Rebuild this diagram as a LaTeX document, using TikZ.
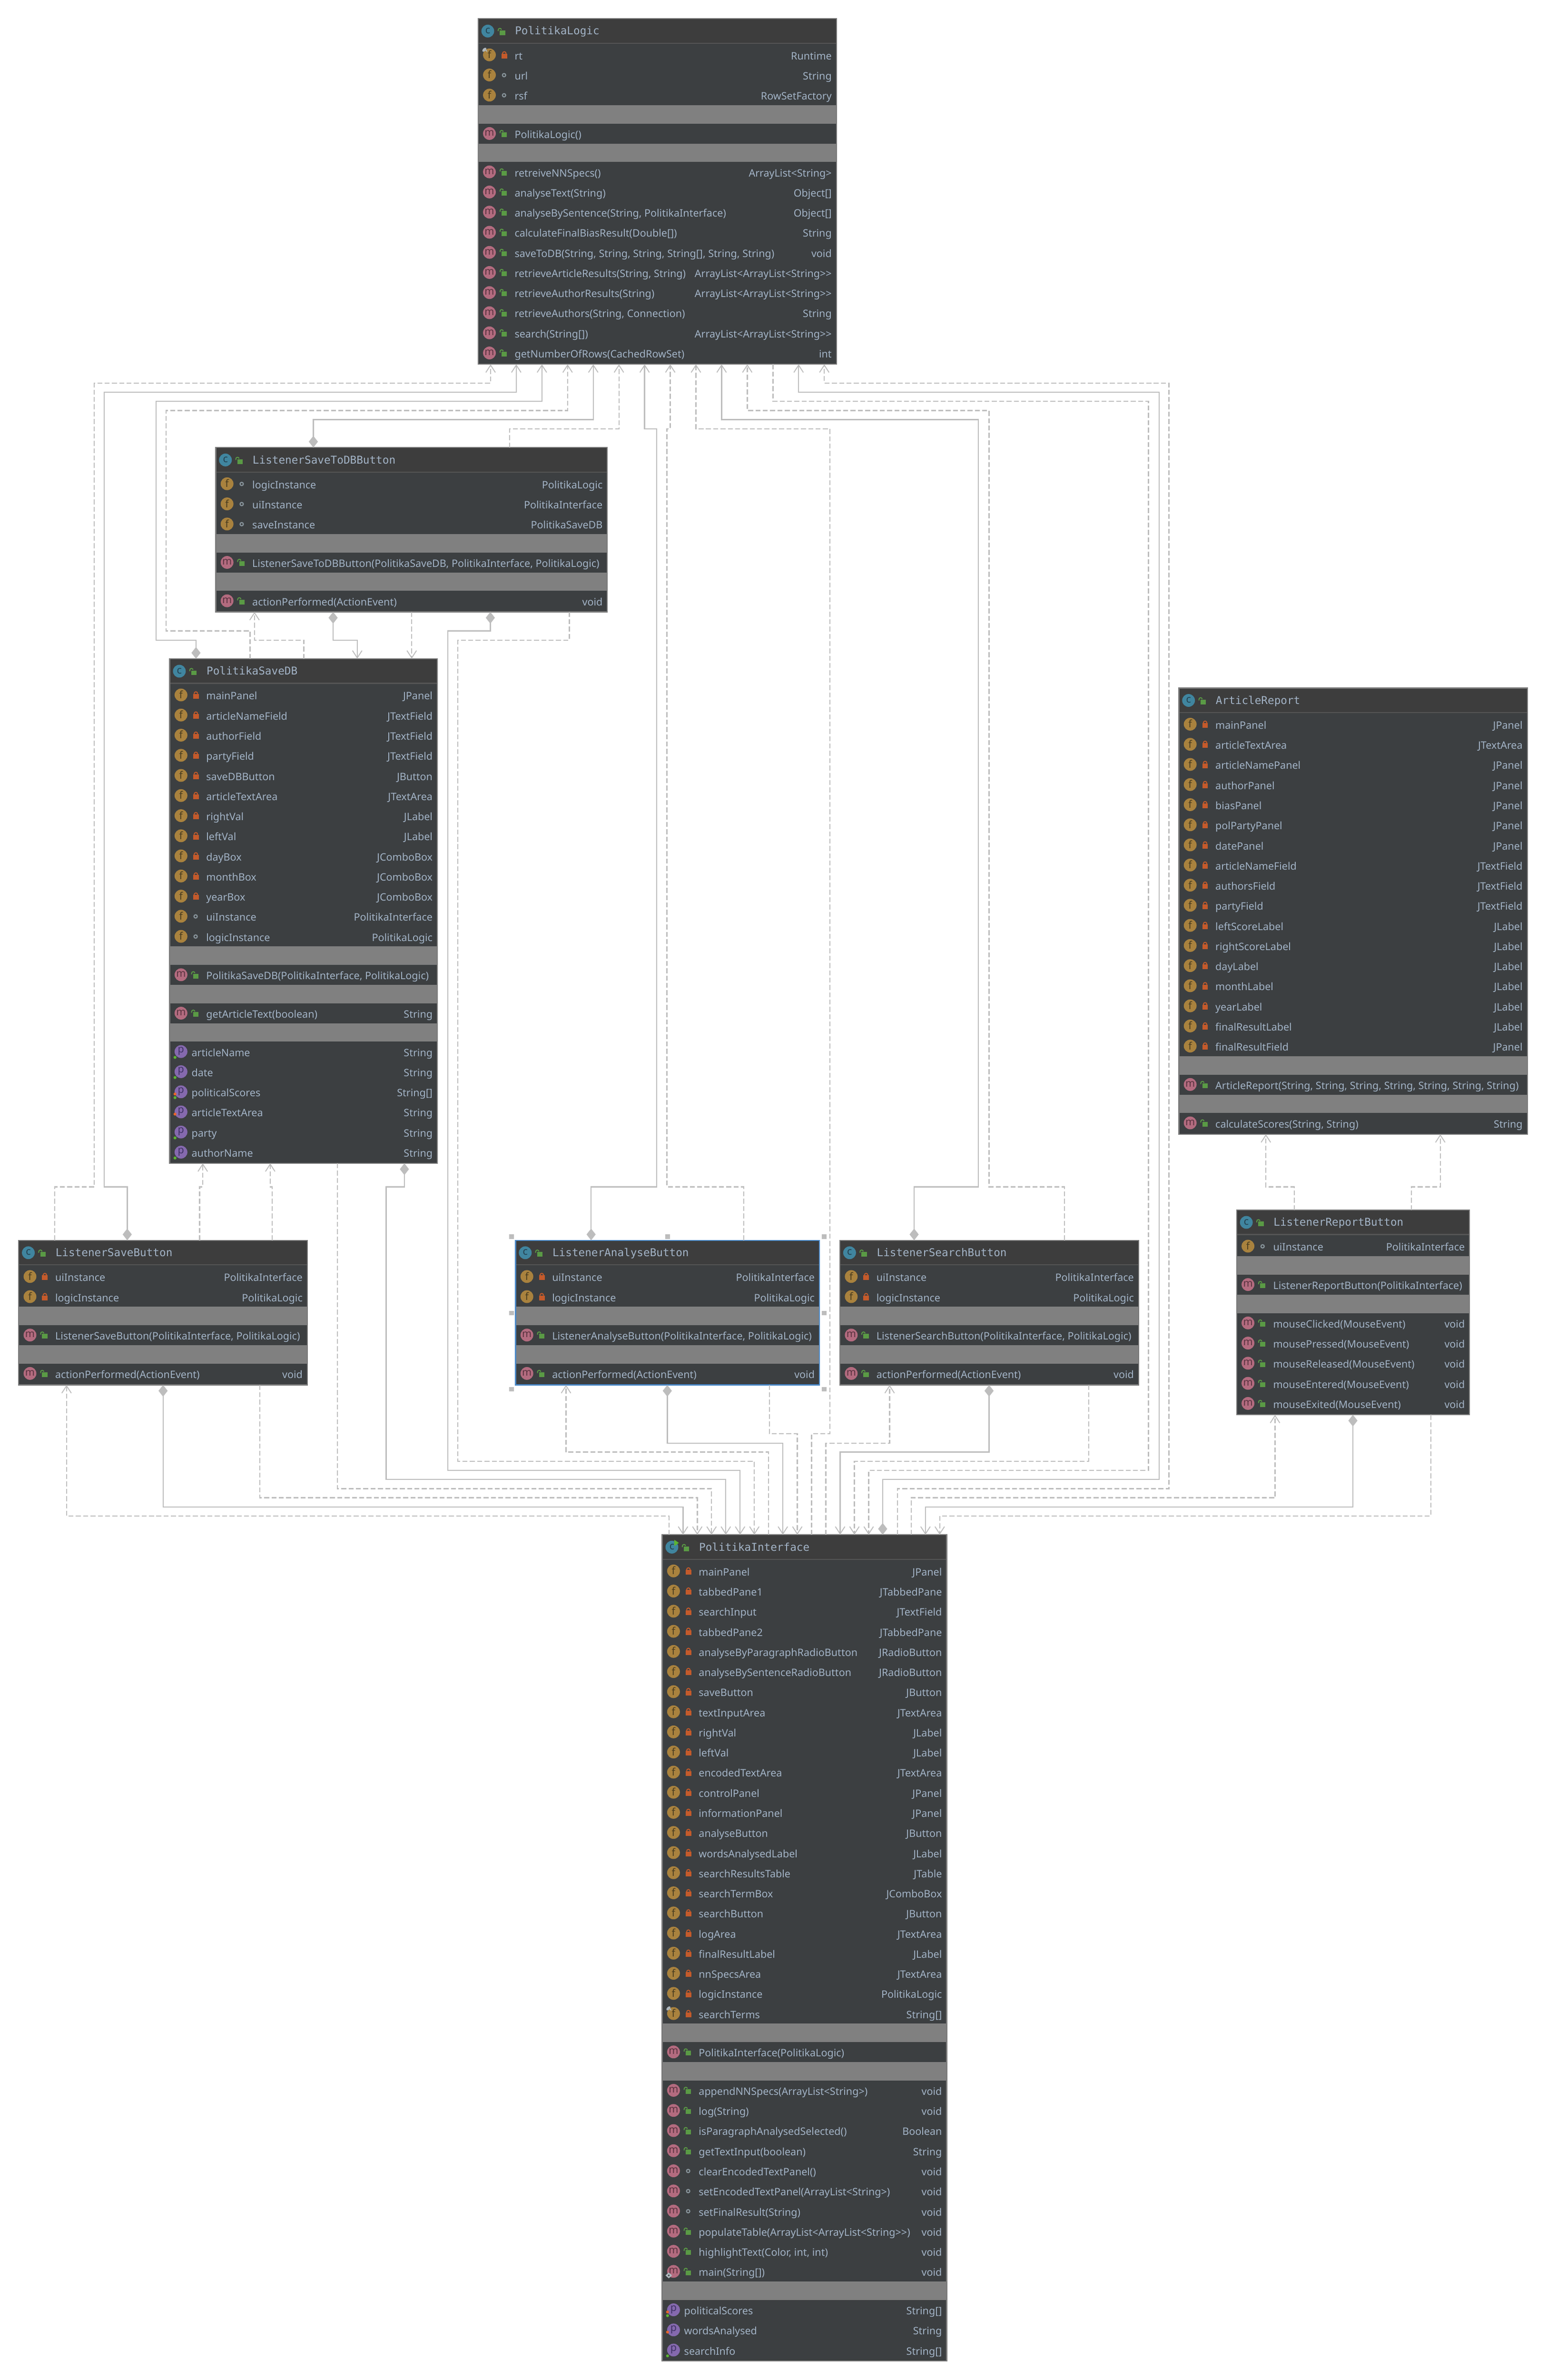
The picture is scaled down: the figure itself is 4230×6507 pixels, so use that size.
\documentclass[tikz,border=0pt]{standalone}
\usepackage{fontspec}
\usetikzlibrary{arrows.meta}
\newfontfamily\rowfont{Noto Sans}
\newfontfamily\titlefont{DejaVu Sans Mono}
\definecolor{bodybg}{HTML}{3C3F41}
\definecolor{headbg}{HTML}{3D3D3D}
\definecolor{boxedge}{HTML}{7B7B7B}
\definecolor{sepline}{HTML}{555555}
\definecolor{gapgray}{HTML}{808080}
\definecolor{txt}{HTML}{A3B4C7}
\definecolor{icC}{HTML}{40859F}
\definecolor{icF}{HTML}{A9823E}
\definecolor{icM}{HTML}{B36B7F}
\definecolor{icP}{HTML}{8569AE}
\definecolor{ltC}{HTML}{24404E}
\definecolor{ltF}{HTML}{4A3D20}
\definecolor{ltM}{HTML}{5A3340}
\definecolor{ltP}{HTML}{3F3263}
\definecolor{lockred}{HTML}{C45A2B}
\definecolor{lockgreen}{HTML}{5A9A45}
\definecolor{ringgray}{HTML}{87939A}
\definecolor{wire}{HTML}{BDBDBD}
\definecolor{dotG}{HTML}{5CB531}
\definecolor{dotO}{HTML}{E8652A}
\definecolor{selblue}{HTML}{4A88C7}
\definecolor{pingray}{HTML}{AFB8BE}
\tikzset{
  x=1pt,y=-1pt,
  cbox/.style={draw=boxedge,line width=3pt,fill=bodybg,anchor=north west,inner sep=0pt,outer sep=0pt},
  rowtxt/.style={text=txt,inner sep=0pt,outer sep=0pt,font=\rowfont\fontsize{28}{28}\selectfont},
  titletxt/.style={text=txt,inner sep=0pt,outer sep=0pt,anchor=base west,font=\titlefont\fontsize{29.5}{30}\selectfont},
  iconletter/.style={inner sep=0pt,outer sep=0pt,font=\rowfont\fontsize{28}{28}\selectfont},
  dep/.style={draw=wire,fill=none,line width=3pt,dash pattern=on 13.5pt off 6.5pt,line join=miter},
  assoc/.style={draw=wire,fill=none,line width=3pt,line join=miter},
  tipopen/.style={-{Straight Barb[length=20pt,width=26pt,line width=2.5pt]}},
  tipboth/.style={{Diamond[length=32pt,width=25pt,fill=wire]}-{Straight Barb[length=20pt,width=26pt,line width=2.5pt]}},
}
\newcount\uid
\newcommand\nid{\global\advance\uid by 1 }
% class frame: id, title, left, top, right, bottom
\newcommand\umlclass[6]{%
  \nid
  \node[cbox,minimum width=#5pt-#3pt,minimum height=#6pt-#4pt] (#1) at (#3,#4) {};
  \def\cl{#3}\def\cr{#5}
  \fill[headbg] ({#3+1.5},{#4+1.5}) rectangle ({#5-1.5},{#4+67});
  \draw[sepline,line width=3pt] ({#3+1.5},{#4+67}) -- ({#5-1.5},{#4+67});
  \fill[icC] ({#3+26.5},{#4+34}) circle[radius=17.5pt];
  \nid\node[iconletter,text=ltC] (n\the\uid) at ({#3+26.5},{#4+33}) {c};
  \openlock{#3+59}{#4+38}
  \nid\node[titletxt] (n\the\uid) at ({#3+101},{#4+44}) {#2};
  \pgfmathsetmacro\cy{#4+102}
}
\newcommand\openlock[2]{%
  \fill[lockgreen] ({#1},{#2-6}) rectangle ({#1+15},{#2+7});
  \draw[lockgreen,line width=2.6pt] ({#1-4},{#2-4}) -- ({#1-4},{#2-7}) arc[start angle=180,end angle=10,radius=4.5pt];
}
\newcommand\closedlock[2]{%
  \fill[lockred] ({#1},{#2-6}) rectangle ({#1+15.5},{#2+7});
  \draw[lockred,line width=2.6pt] ({#1+3},{#2-6}) -- ({#1+3},{#2-7}) arc[start angle=180,end angle=0,radius=4.7pt] -- ({#1+12.4},{#2-6});
}
\newcommand\visicon[1]{%
  \ifx#1o\openlock{\cl+64}{\cy}\fi
  \ifx#1l\closedlock{\cl+64}{\cy}\fi
  \ifx#1r\draw[ringgray,line width=3pt] ({\cl+71},{\cy-2.5}) circle[radius=4.5pt];\fi
}
% #1 letter kind (F/M), #2 letter, #3 vis, #4 name, #5 type
\newcommand\mrow[5]{%
  \fill[ic#1] ({\cl+31},{\cy-3}) circle[radius=17.5pt];
  \nid\node[iconletter,text=lt#1] (n\the\uid) at ({\cl+31},{\cy-4}) {#2};
  \visicon{#3}
  \nid\node[rowtxt,anchor=base west] (n\the\uid) at ({\cl+100},{\cy+10}) {#4};
  \nid\node[rowtxt,anchor=base east] (n\the\uid) at ({\cr-13},{\cy+10}) {#5};
  \pgfmathsetmacro\cy{\cy+55}
}
\newcommand\frow[3]{\mrow{F}{f}{#1}{#2}{#3}}
\newcommand\mth[3]{\mrow{M}{m}{#1}{#2}{#3}}
% property row: #1 orange dot(0/1), #2 green dot(0/1), name, type
\newcommand\prow[4]{%
  \fill[icP] ({\cl+31},{\cy-3}) circle[radius=17.5pt];
  \nid\node[iconletter,text=ltP] (n\the\uid) at ({\cl+31},{\cy-4}) {p};
  \ifnum#1=1 \fill[dotO] ({\cl+14.6},{\cy+3}) circle[radius=4pt];\fi
  \ifnum#2=1 \fill[dotG] ({\cl+14.6},{\cy+13}) circle[radius=4pt];\fi
  \nid\node[rowtxt,anchor=base west] (n\the\uid) at ({\cl+60},{\cy+10}) {#3};
  \nid\node[rowtxt,anchor=base east] (n\the\uid) at ({\cr-13},{\cy+10}) {#4};
  \pgfmathsetmacro\cy{\cy+55}
}
\newcommand\gapbar{%
  \fill[gapgray] ({\cl+1.5},{\cy-30.3}) rectangle ({\cr-1.5},{\cy+20});
  \pgfmathsetmacro\cy{\cy+50}
}
% pin on the icon of the row just drawn
\newcommand\pinmark{%
  \fill[pingray,rotate around={45:({\cl+17},{\cy-55-17})}] ({\cl+17},{\cy-55-17}) ellipse[x radius=7pt,y radius=4pt];
  \fill[pingray] ({\cl+20},{\cy-55-15}) -- ({\cl+24},{\cy-55-17}) -- ({\cl+25},{\cy-55-10}) -- cycle;
}
\newcommand\runmark{%
  \fill[pingray] ({\cl+9},{\cy-55+8}) -- ({\cl+18},{\cy-55}) -- ({\cl+27},{\cy-55+8}) -- ({\cl+18},{\cy-55+16}) -- cycle;
  \fill[bodybg] ({\cl+15.5},{\cy-55+8}) -- ({\cl+18},{\cy-55+5.5}) -- ({\cl+20.5},{\cy-55+8}) -- ({\cl+18},{\cy-55+10.5}) -- cycle;
}
\begin{document}
\begin{tikzpicture}
\useasboundingbox (0,0) rectangle (4230,6507);
\fill[white] (0,0) rectangle (4230,6507);

% ---------- PolitikaLogic
\umlclass{PL}{PolitikaLogic}{1307.5}{51}{2287.5}{996}
\frow{l}{rt}{Runtime}\pinmark
\frow{r}{url}{String}
\frow{r}{rsf}{RowSetFactory}
\gapbar
\mth{o}{PolitikaLogic()}{}
\gapbar
\mth{o}{retreiveNNSpecs()}{ArrayList<String>}
\mth{o}{analyseText(String)}{Object[]}
\mth{o}{analyseBySentence(String, PolitikaInterface)}{Object[]}
\mth{o}{calculateFinalBiasResult(Double[])}{String}
\mth{o}{saveToDB(String, String, String, String[], String, String)}{void}
\mth{o}{retrieveArticleResults(String, String)}{ArrayList<ArrayList<String>>}
\mth{o}{retrieveAuthorResults(String)}{ArrayList<ArrayList<String>>}
\mth{o}{retrieveAuthors(String, Connection)}{String}
\mth{o}{search(String[])}{ArrayList<ArrayList<String>>}
\mth{o}{getNumberOfRows(CachedRowSet)}{int}

% ---------- ListenerSaveToDBButton
\umlclass{SD}{ListenerSaveToDBButton}{590}{1223.6}{1661}{1673}
\frow{r}{logicInstance}{PolitikaLogic}
\frow{r}{uiInstance}{PolitikaInterface}
\frow{r}{saveInstance}{PolitikaSaveDB}
\gapbar
\mth{o}{ListenerSaveToDBButton(PolitikaSaveDB, PolitikaInterface, PolitikaLogic)}{}
\gapbar
\mth{o}{actionPerformed(ActionEvent)}{void}

% ---------- PolitikaSaveDB
\umlclass{SDB}{PolitikaSaveDB}{464}{1801}{1196}{3180.5}
\frow{l}{mainPanel}{JPanel}
\frow{l}{articleNameField}{JTextField}
\frow{l}{authorField}{JTextField}
\frow{l}{partyField}{JTextField}
\frow{l}{saveDBButton}{JButton}
\frow{l}{articleTextArea}{JTextArea}
\frow{l}{rightVal}{JLabel}
\frow{l}{leftVal}{JLabel}
\frow{l}{dayBox}{JComboBox}
\frow{l}{monthBox}{JComboBox}
\frow{l}{yearBox}{JComboBox}
\frow{r}{uiInstance}{PolitikaInterface}
\frow{r}{logicInstance}{PolitikaLogic}
\gapbar
\mth{o}{PolitikaSaveDB(PolitikaInterface, PolitikaLogic)}{}
\gapbar
\mth{o}{getArticleText(boolean)}{String}
\gapbar
\prow{0}{1}{articleName}{String}
\prow{0}{1}{date}{String}
\prow{1}{1}{politicalScores}{String[]}
\prow{1}{0}{articleTextArea}{String}
\prow{0}{1}{party}{String}
\prow{0}{1}{authorName}{String}

% ---------- ArticleReport
\umlclass{AR}{ArticleReport}{3224}{1881}{4177}{3101}
\frow{l}{mainPanel}{JPanel}
\frow{l}{articleTextArea}{JTextArea}
\frow{l}{articleNamePanel}{JPanel}
\frow{l}{authorPanel}{JPanel}
\frow{l}{biasPanel}{JPanel}
\frow{l}{polPartyPanel}{JPanel}
\frow{l}{datePanel}{JPanel}
\frow{l}{articleNameField}{JTextField}
\frow{l}{authorsField}{JTextField}
\frow{l}{partyField}{JTextField}
\frow{l}{leftScoreLabel}{JLabel}
\frow{l}{rightScoreLabel}{JLabel}
\frow{l}{dayLabel}{JLabel}
\frow{l}{monthLabel}{JLabel}
\frow{l}{yearLabel}{JLabel}
\frow{l}{finalResultLabel}{JLabel}
\frow{l}{finalResultField}{JPanel}
\gapbar
\mth{o}{ArticleReport(String, String, String, String, String, String, String)}{}
\gapbar
\mth{o}{calculateScores(String, String)}{String}

% ---------- ListenerSaveButton
\umlclass{LSB}{ListenerSaveButton}{51}{3391}{840.5}{3786.5}
\frow{l}{uiInstance}{PolitikaInterface}
\frow{l}{logicInstance}{PolitikaLogic}
\gapbar
\mth{o}{ListenerSaveButton(PolitikaInterface, PolitikaLogic)}{}
\gapbar
\mth{o}{actionPerformed(ActionEvent)}{void}

% ---------- ListenerAnalyseButton (selected)
\umlclass{LAB}{ListenerAnalyseButton}{1410}{3391}{2241}{3786.5}
\frow{l}{uiInstance}{PolitikaInterface}
\frow{l}{logicInstance}{PolitikaLogic}
\gapbar
\mth{o}{ListenerAnalyseButton(PolitikaInterface, PolitikaLogic)}{}
\gapbar
\mth{o}{actionPerformed(ActionEvent)}{void}
\draw[selblue,line width=3pt] (LAB.north west) rectangle (LAB.south east);
\foreach \hx/\hy in {1399/3381,1826/3381,2254/3381,1399/3590,2254/3590,1399/3798,2254/3798}
  \fill[wire] ({\hx-6.5},{\hy-6}) rectangle ({\hx+6.5},{\hy+6});

% ---------- ListenerSearchButton
\umlclass{LS}{ListenerSearchButton}{2297}{3391}{3114}{3786.5}
\frow{l}{uiInstance}{PolitikaInterface}
\frow{l}{logicInstance}{PolitikaLogic}
\gapbar
\mth{o}{ListenerSearchButton(PolitikaInterface, PolitikaLogic)}{}
\gapbar
\mth{o}{actionPerformed(ActionEvent)}{void}

% ---------- ListenerReportButton
\umlclass{LRB}{ListenerReportButton}{3382}{3308}{4019}{3868}
\frow{r}{uiInstance}{PolitikaInterface}
\gapbar
\mth{o}{ListenerReportButton(PolitikaInterface)}{}
\gapbar
\mth{o}{mouseClicked(MouseEvent)}{void}
\mth{o}{mousePressed(MouseEvent)}{void}
\mth{o}{mouseReleased(MouseEvent)}{void}
\mth{o}{mouseEntered(MouseEvent)}{void}
\mth{o}{mouseExited(MouseEvent)}{void}

% ---------- PolitikaInterface
\umlclass{PI}{PolitikaInterface}{1811}{4196}{2589}{6455}
\fill[dotG] (1844.3,4210) -- (1844.3,4226.7) -- (1856.7,4218.3) -- cycle;
\frow{l}{mainPanel}{JPanel}
\frow{l}{tabbedPane1}{JTabbedPane}
\frow{l}{searchInput}{JTextField}
\frow{l}{tabbedPane2}{JTabbedPane}
\frow{l}{analyseByParagraphRadioButton}{JRadioButton}
\frow{l}{analyseBySentenceRadioButton}{JRadioButton}
\frow{l}{saveButton}{JButton}
\frow{l}{textInputArea}{JTextArea}
\frow{l}{rightVal}{JLabel}
\frow{l}{leftVal}{JLabel}
\frow{l}{encodedTextArea}{JTextArea}
\frow{l}{controlPanel}{JPanel}
\frow{l}{informationPanel}{JPanel}
\frow{l}{analyseButton}{JButton}
\frow{l}{wordsAnalysedLabel}{JLabel}
\frow{l}{searchResultsTable}{JTable}
\frow{l}{searchTermBox}{JComboBox}
\frow{l}{searchButton}{JButton}
\frow{l}{logArea}{JTextArea}
\frow{l}{finalResultLabel}{JLabel}
\frow{l}{nnSpecsArea}{JTextArea}
\frow{l}{logicInstance}{PolitikaLogic}
\frow{l}{searchTerms}{String[]}\pinmark
\gapbar
\mth{o}{PolitikaInterface(PolitikaLogic)}{}
\gapbar
\mth{o}{appendNNSpecs(ArrayList<String>)}{void}
\mth{o}{log(String)}{void}
\mth{o}{isParagraphAnalysedSelected()}{Boolean}
\mth{o}{getTextInput(boolean)}{String}
\mth{r}{clearEncodedTextPanel()}{void}
\mth{r}{setEncodedTextPanel(ArrayList<String>)}{void}
\mth{r}{setFinalResult(String)}{void}
\mth{o}{populateTable(ArrayList<ArrayList<String>>)}{void}
\mth{o}{highlightText(Color, int, int)}{void}
\mth{o}{main(String[])}{void}\runmark
\gapbar
\prow{1}{1}{politicalScores}{String[]}
\prow{1}{0}{wordsAnalysed}{String}
\prow{0}{1}{searchInfo}{String[]}

% ---------- connectors into PolitikaLogic
\draw[dep,tipopen] (150,0 |- LSB.north) |- (258,3245) |- (1341.7,1047.3) -- (1341.7,0 |- PL.south);
\draw[assoc,tipboth] (348,0 |- LSB.north) |- (285,3245) |- (1411.9,1072.3) -- (1411.9,0 |- PL.south);
\draw[assoc,tipboth] (536,0 |- SDB.north) |- (427,1750) |- (1482.1,1097.3) -- (1482.1,0 |- PL.south);
\draw[dep,tipopen] (684,0 |- SDB.north) |- (454,1725) |- (1552.3,1122.3) -- (1552.3,0 |- PL.south);
\draw[assoc,tipboth] (857,0 |- SD.north) |- (1622.5,1147.3) -- (1622.5,0 |- PL.south);
\draw[dep,tipopen] (1394,0 |- SD.north) |- (1692.7,1172.3) -- (1692.7,0 |- PL.south);
\draw[assoc,tipboth] (1616.6,0 |- LAB.north) |- (1796,3245) |- (1762.9,1172.3) -- (1762.9,0 |- PL.south);
\draw[dep,tipopen] (2034,0 |- LAB.north) |- (1824,3245) |- (1833.1,1172.3) -- (1833.1,0 |- PL.south);
\draw[dep,tipopen] (2219.6,0 |- PI.north) |- (2270,3920) |- (1903.3,1172.3) -- (1903.3,0 |- PL.south);
\draw[assoc,tipboth] (2500,0 |- LS.north) |- (2676,3245) |- (1973.5,1147.3) -- (1973.5,0 |- PL.south);
\draw[dep,tipopen] (2911,0 |- LS.north) |- (2705,3245) |- (2043.7,1122.3) -- (2043.7,0 |- PL.south);
\draw[dep,tipopen] (2113.9,0 |- PL.south) |- (3141,1097.3) |- (2375.7,4020) -- (2375.7,0 |- PI.north);
\draw[assoc,tipboth] (2414,0 |- PI.north) |- (3170,4045) |- (2184.1,1072.3) -- (2184.1,0 |- PL.south);
\draw[dep,tipopen] (2454,0 |- PI.north) |- (3197,4070) |- (2254.3,1047.3) -- (2254.3,0 |- PL.south);

% ---------- ListenerSaveToDBButton bottom
\draw[dep,tipopen] (831,0 |- SDB.north) |- (696,1750) -- (696,0 |- SD.south);
\draw[assoc,tipboth] (911,0 |- SD.south) |- (977,1750) -- (977,0 |- SDB.north);
\draw[dep,tipopen] (1126,0 |- SD.south) -- (1126,0 |- SDB.north);
\draw[assoc,tipboth] (1341,0 |- SD.south) |- (1225,1725) |- (2024,4020) -- (2024,0 |- PI.north);
\draw[dep,tipopen] (1557,0 |- SD.south) |- (1252,1750) |- (2063,3995) -- (2063,0 |- PI.north);

% ---------- PolitikaSaveDB bottom
\draw[dep,tipopen] (546,0 |- LSB.north) |- (554.5,3245) -- (554.5,0 |- SDB.south);
\draw[dep,tipopen] (744,0 |- LSB.north) |- (739,3245) -- (739,0 |- SDB.south);
\draw[dep,tipopen] (923,0 |- SDB.south) |- (1946,4070) -- (1946,0 |- PI.north);
\draw[assoc,tipboth] (1106,0 |- SDB.south) |- (1056,3245) |- (1985,4045) -- (1985,0 |- PI.north);

% ---------- ListenerSaveButton bottom
\draw[dep,tipopen] (1830,0 |- PI.north) |- (182,4145) -- (182,0 |- LSB.south);
\draw[assoc,tipboth] (446,0 |- LSB.south) |- (1868,4120) -- (1868,0 |- PI.north);
\draw[dep,tipopen] (711,0 |- LSB.south) |- (1907,4095) -- (1907,0 |- PI.north);

% ---------- ListenerAnalyseButton bottom
\draw[dep,tipopen] (2102,0 |- PI.north) |- (1548,3970) -- (1548,0 |- LAB.south);
\draw[assoc,tipboth] (1825,0 |- LAB.south) |- (2141,3946) -- (2141,0 |- PI.north);
\draw[dep,tipopen] (2104,0 |- LAB.south) |- (2180.5,3920) -- (2180.5,0 |- PI.north);

% ---------- ListenerSearchButton bottom
\draw[dep,tipopen] (2258.6,0 |- PI.north) |- (2433,3946) -- (2433,0 |- LS.south);
\draw[assoc,tipboth] (2705,0 |- LS.south) |- (2297.6,3970) -- (2297.6,0 |- PI.north);
\draw[dep,tipopen] (2978,0 |- LS.south) |- (2336.7,3995) -- (2336.7,0 |- PI.north);

% ---------- ListenerReportButton
\draw[dep,tipopen] (3540,0 |- LRB.north) |- (3462,3245) -- (3462,0 |- AR.south);
\draw[dep,tipopen] (3860,0 |- LRB.north) |- (3939,3245) -- (3939,0 |- AR.south);
\draw[dep,tipopen] (2492,0 |- PI.north) |- (3487,4095) -- (3487,0 |- LRB.south);
\draw[assoc,tipboth] (3700,0 |- LRB.south) |- (2531,4120) -- (2531,0 |- PI.north);
\draw[dep,tipopen] (3913,0 |- LRB.south) |- (2570,4145) -- (2570,0 |- PI.north);
\end{tikzpicture}
\end{document}
